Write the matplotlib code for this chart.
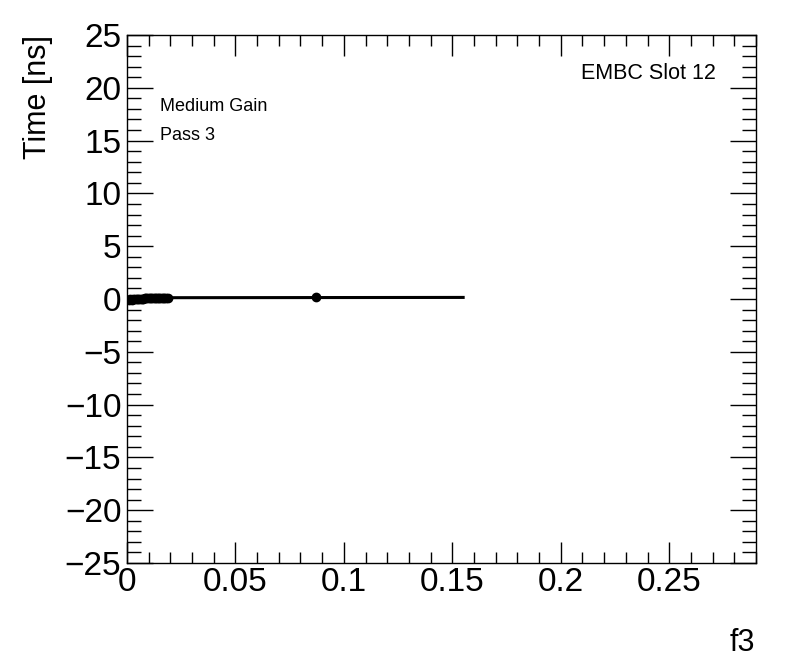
# ROOT 스타일 산점도: f3 vs Time (EMBC Slot 12)
import matplotlib
matplotlib.use('Agg')
import matplotlib.pyplot as plt
from matplotlib.ticker import MultipleLocator, FormatStrFormatter

plt.rcParams['font.family'] = ['Liberation Sans', 'DejaVu Sans']

# 데이터
f3_values = [0.0008, 0.0015, 0.0022, 0.0030, 0.0038, 0.0045, 0.0052, 0.0060,
             0.0068, 0.0075, 0.0083, 0.0090, 0.0098, 0.0105, 0.0112, 0.0120,
             0.0128, 0.0135, 0.0143, 0.0150, 0.0158, 0.0165, 0.0173, 0.0180,
             0.0188, 0.0870]
time_values = [-0.05, -0.04, -0.05, -0.03, -0.04, -0.02, -0.03, -0.01,
               0.00, 0.02, 0.05, 0.08, 0.10, 0.12, 0.10, 0.12,
               0.11, 0.12, 0.10, 0.12, 0.11, 0.12, 0.10, 0.11,
               0.10, 0.15]
fit_x = [0.0, 0.155]
fit_y = [0.12, 0.15]

fig = plt.figure(figsize=(7.96, 6.72), dpi=100)
ax = fig.add_axes([0.1595, 0.1622, 0.7902, 0.7857])

ax.plot(fit_x, fit_y, color='black', lw=2.2, zorder=2)
ax.plot(f3_values, time_values, 'o', color='black', markersize=6, zorder=3)

ax.set_xlim(0, 0.29)
ax.set_ylim(-25, 25)

# ROOT 스타일 눈금
ax.xaxis.set_major_locator(MultipleLocator(0.05))
ax.xaxis.set_minor_locator(MultipleLocator(0.01))
ax.xaxis.set_major_formatter(FormatStrFormatter('%g'))
ax.yaxis.set_major_locator(MultipleLocator(5))
ax.yaxis.set_minor_locator(MultipleLocator(1))
ax.tick_params(axis='both', which='both', direction='in', top=True, right=True,
               labelsize=24, width=1, color='black')
ax.tick_params(axis='x', which='major', length=15, pad=3)
ax.tick_params(axis='x', which='minor', length=8)
ax.tick_params(axis='y', which='major', length=19, pad=4)
ax.tick_params(axis='y', which='minor', length=10)
for s in ax.spines.values():
    s.set_linewidth(1)

# 축 제목 (ROOT처럼 끝 정렬)
fig.text(0.048, 0.948, 'Time [ns]', rotation=90, ha='center', va='top', fontsize=22)
fig.text(0.949, 0.043, 'f3', ha='right', va='center', fontsize=22)

# 주석 텍스트
ax.text(0.052, 0.865, 'Medium Gain', transform=ax.transAxes, fontsize=13, va='center')
ax.text(0.052, 0.81, 'Pass 3', transform=ax.transAxes, fontsize=13, va='center')
ax.text(0.937, 0.928, 'EMBC Slot 12', transform=ax.transAxes, fontsize=15.5,
        ha='right', va='center')

fig.savefig('out.png', dpi=100)
